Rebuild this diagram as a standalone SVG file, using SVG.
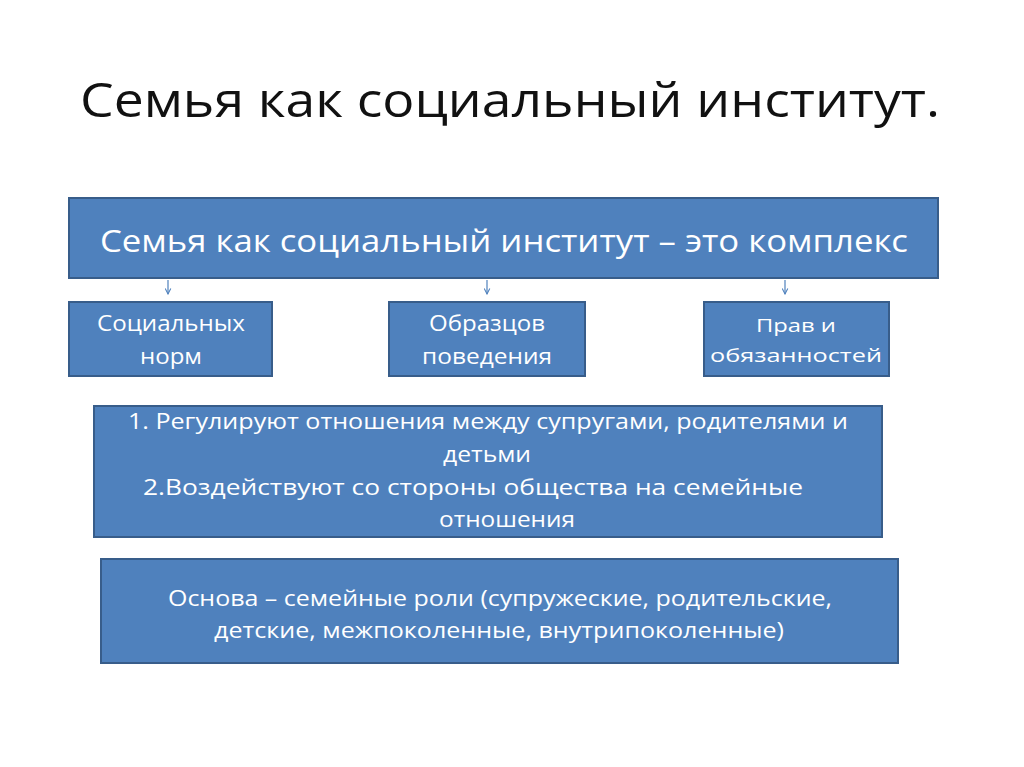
<svg xmlns="http://www.w3.org/2000/svg" width="1024" height="767" viewBox="0 0 1024 767">
<style>
.box{fill:#4F81BD;stroke:#385D8A;stroke-width:2}
.t{fill:#ffffff;font-family:"Open Sans","Liberation Sans",sans-serif;text-anchor:middle}
.title{fill:#111111;font-family:"Open Sans","Liberation Sans",sans-serif;font-size:48px}
.conn{stroke:#4F81BD;stroke-width:1.2;fill:none;marker-end:url(#ah)}
</style>
<defs>
<marker id="ah" viewBox="0 0 10 10" refX="9" refY="5" markerWidth="7" markerHeight="7" orient="auto" markerUnits="userSpaceOnUse">
<path d="M1,1 L9,5 L1,9" fill="none" stroke="#4F81BD" stroke-width="1.5"/>
</marker>
</defs>
<rect width="1024" height="767" fill="#ffffff"/>
<text class="title" x="80" y="117" textLength="860" lengthAdjust="spacingAndGlyphs">Семья как социальный институт.</text>
<g id="connectors">
<line class="conn" x1="168" y1="280" x2="168" y2="294"/>
<line class="conn" x1="487" y1="280" x2="487" y2="294"/>
<line class="conn" x1="785" y1="280" x2="785" y2="294"/>
</g>
<g id="main">
<rect class="box" x="69" y="198" width="869" height="80"/>
<text class="t" x="504" y="252" font-size="31" textLength="808" lengthAdjust="spacingAndGlyphs">Семья как социальный институт – это комплекс</text>
</g>
<g id="norms">
<rect class="box" x="69" y="302" width="203" height="74"/>
<text class="t" x="171" y="331" font-size="22" textLength="148" lengthAdjust="spacingAndGlyphs">Социальных</text>
<text class="t" x="171" y="364" font-size="22" textLength="62" lengthAdjust="spacingAndGlyphs">норм</text>
</g>
<g id="patterns">
<rect class="box" x="389" y="302" width="196" height="74"/>
<text class="t" x="487" y="331" font-size="22" textLength="116" lengthAdjust="spacingAndGlyphs">Образцов</text>
<text class="t" x="487" y="364" font-size="22" textLength="130" lengthAdjust="spacingAndGlyphs">поведения</text>
</g>
<g id="rights">
<rect class="box" x="704" y="302" width="185" height="74"/>
<text class="t" x="796" y="332" font-size="19" textLength="80" lengthAdjust="spacingAndGlyphs">Прав и</text>
<text class="t" x="796" y="362" font-size="19" textLength="172" lengthAdjust="spacingAndGlyphs">обязанностей</text>
</g>
<g id="functions">
<rect class="box" x="94" y="406" width="788" height="131"/>
<text class="t" x="488" y="429" font-size="22" textLength="720" lengthAdjust="spacingAndGlyphs">1.  Регулируют отношения между супругами, родителями и</text>
<text class="t" x="487" y="462" font-size="22" textLength="88" lengthAdjust="spacingAndGlyphs">детьми</text>
<text class="t" x="473" y="495" font-size="22" textLength="660" lengthAdjust="spacingAndGlyphs">2.Воздействуют  со стороны общества на семейные</text>
<text class="t" x="507" y="527" font-size="22" textLength="136" lengthAdjust="spacingAndGlyphs">отношения</text>
</g>
<g id="basis">
<rect class="box" x="101" y="559" width="797" height="104"/>
<text class="t" x="500" y="606" font-size="22" textLength="664" lengthAdjust="spacingAndGlyphs">Основа – семейные роли (супружеские, родительские,</text>
<text class="t" x="499" y="638" font-size="22" textLength="570" lengthAdjust="spacingAndGlyphs">детские, межпоколенные, внутрипоколенные)</text>
</g>
</svg>
